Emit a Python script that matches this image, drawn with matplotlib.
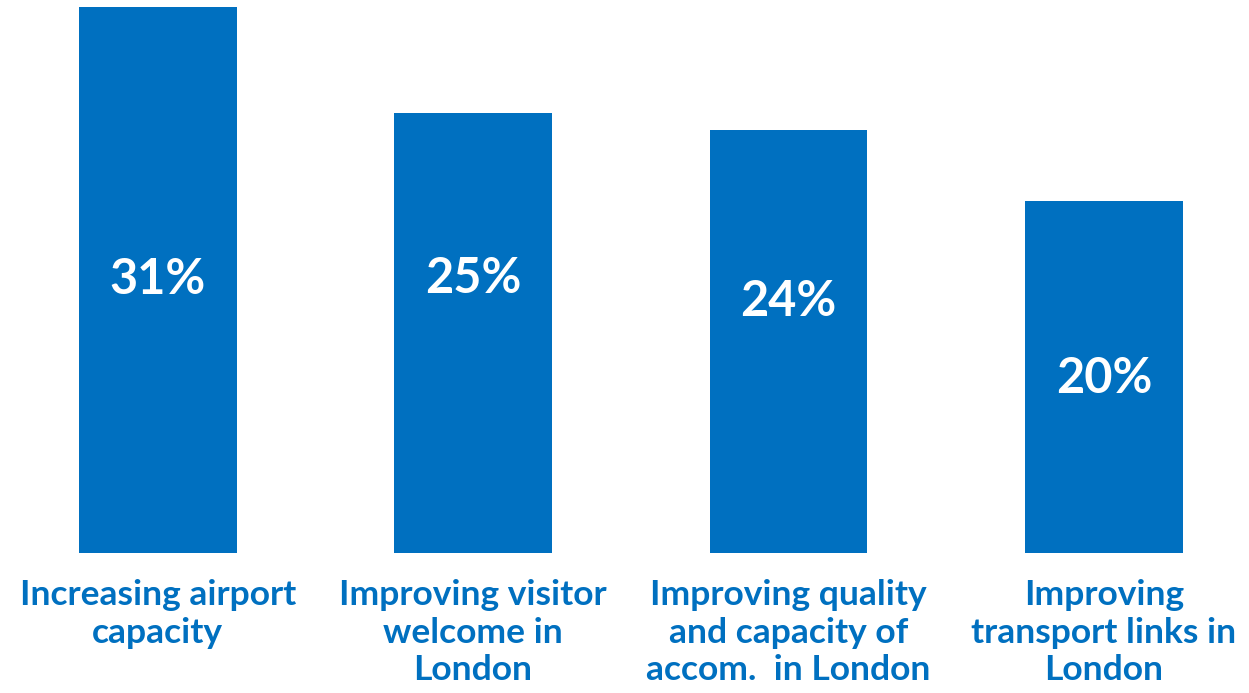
import matplotlib
matplotlib.use("Agg")
import matplotlib.pyplot as plt

# survey results: share of respondents choosing each priority
categories = [
    "Increasing airport\ncapacity",
    "Improving visitor\nwelcome in\nLondon",
    "Improving quality\nand capacity of\naccom.  in London",
    "Improving\ntransport links in\nLondon",
]
values = [31, 25, 24, 20]
label_heights = [15.5, 15.6, 14.3, 9.9]  # where the % labels sit inside the bars

blue = "#0070C0"
plt.rcParams["font.family"] = ["Lato", "DejaVu Sans"]

fig = plt.figure(figsize=(12.49, 6.93), dpi=100)
ax = fig.add_axes([0, 140 / 693, 1, 546 / 693])

x = range(len(values))
ax.bar(x, values, width=0.5, color=blue)

for i, v in enumerate(values):
    ax.text(i, label_heights[i], f"{v}%", ha="center", va="center",
            color="white", fontsize=35, fontweight="bold")

ax.set_xlim(-0.5, 3.46)
ax.set_ylim(0, 31)
ax.axis("off")

# category names under the bars
for i, name in enumerate(categories):
    ax.annotate(name, xy=(i, 0), xycoords="data",
                xytext=(0, -19), textcoords="offset points",
                ha="center", va="top", color=blue,
                fontsize=25.5, fontweight="bold", linespacing=1.2,
                annotation_clip=False)

fig.savefig("out.png", dpi=100)
